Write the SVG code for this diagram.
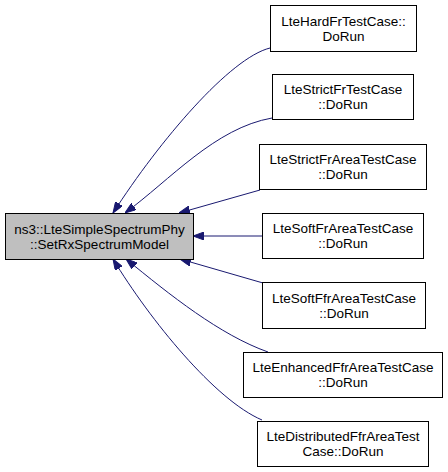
<svg xmlns="http://www.w3.org/2000/svg" width="448" height="472" viewBox="0 0 448 472">
<style>
.n rect{fill:#ffffff;stroke:#000000;stroke-width:1}
.n.m rect{fill:#bfbfbf}
.n text{font-family:"Liberation Sans",Arial,sans-serif;font-size:13.5px;text-anchor:middle;fill:#000000}
.e path{fill:none;stroke:#191970;stroke-width:1}
</style>
<defs>
<marker id="ah" viewBox="0 0 11 8" refX="11" refY="4" markerWidth="11" markerHeight="8" markerUnits="userSpaceOnUse" orient="auto">
<path d="M0,0 L11,4 L0,8 z" fill="#191970" stroke="#191970" stroke-width="1"/>
</marker>
</defs>
<rect width="448" height="472" fill="#ffffff"/>
<g id="connectors" class="e">
<path d="M270,48 C230,58 160,140 113,213" marker-end="url(#ah)"/>
<path d="M272,118 C215,128 170,180 125,213" marker-end="url(#ah)"/>
<path d="M260,190 L179,213" marker-end="url(#ah)"/>
<path d="M262,236 L193,236" marker-end="url(#ah)"/>
<path d="M263,283 L180,259" marker-end="url(#ah)"/>
<path d="M268,352 C220,335 170,295 126,259" marker-end="url(#ah)"/>
<path d="M262,420 C215,400 150,320 113,259" marker-end="url(#ah)"/>
</g>
<g id="main" class="n m">
<rect x="5.5" y="213.5" width="188" height="46"/>
<text x="99.5" y="233.5">ns3::LteSimpleSpectrumPhy</text>
<text x="99.5" y="248.5">::SetRxSpectrumModel</text>
</g>
<g id="n1" class="n">
<rect x="270.5" y="5.5" width="146" height="46"/>
<text x="343.5" y="25.5">LteHardFrTestCase::</text>
<text x="343.5" y="40.5">DoRun</text>
</g>
<g id="n2" class="n">
<rect x="272.5" y="74.5" width="141" height="45"/>
<text x="343" y="94">LteStrictFrTestCase</text>
<text x="343" y="109">::DoRun</text>
</g>
<g id="n3" class="n">
<rect x="259.5" y="144.5" width="167" height="45"/>
<text x="343" y="164">LteStrictFrAreaTestCase</text>
<text x="343" y="179">::DoRun</text>
</g>
<g id="n4" class="n">
<rect x="262.5" y="213.5" width="161" height="45"/>
<text x="343" y="233">LteSoftFrAreaTestCase</text>
<text x="343" y="248">::DoRun</text>
</g>
<g id="n5" class="n">
<rect x="262.5" y="282.5" width="163" height="46"/>
<text x="344" y="302.5">LteSoftFfrAreaTestCase</text>
<text x="344" y="317.5">::DoRun</text>
</g>
<g id="n6" class="n">
<rect x="243.5" y="352.5" width="199" height="45"/>
<text x="343" y="372">LteEnhancedFfrAreaTestCase</text>
<text x="343" y="387">::DoRun</text>
</g>
<g id="n7" class="n">
<rect x="257.5" y="421.5" width="171" height="45"/>
<text x="343" y="441">LteDistributedFfrAreaTest</text>
<text x="343" y="456">Case::DoRun</text>
</g>
</svg>
